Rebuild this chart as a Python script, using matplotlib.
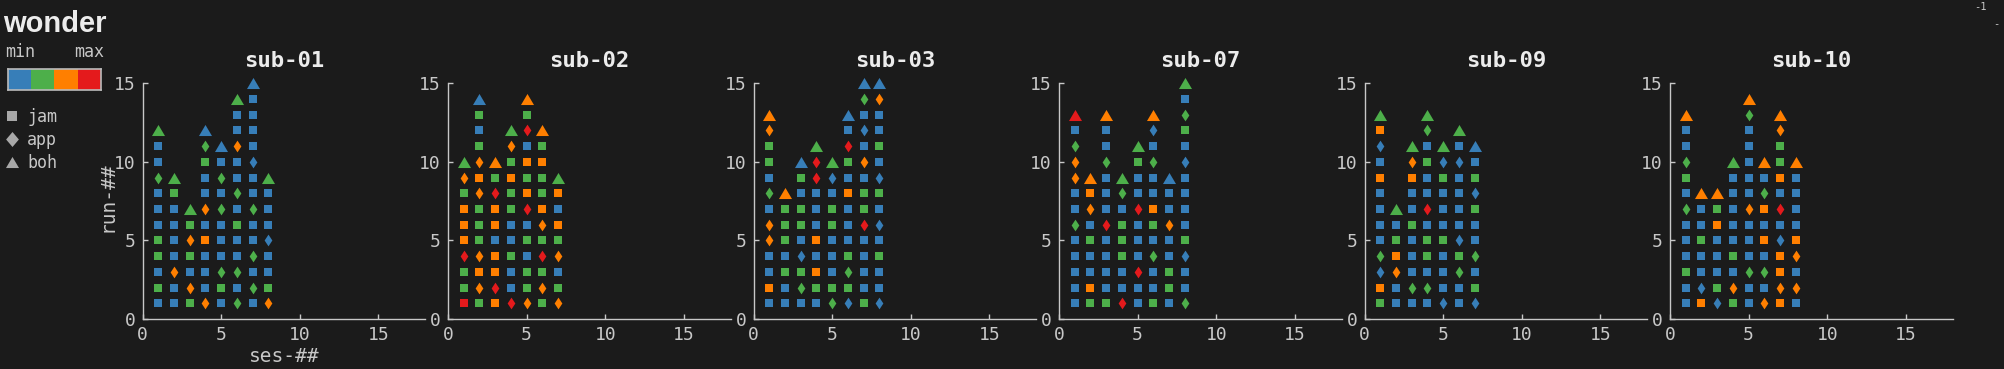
import matplotlib
matplotlib.use("Agg")
import matplotlib.pyplot as plt
from matplotlib.colors import ListedColormap
from matplotlib.lines import Line2D
import numpy as np

# ---------------- data ----------------
subjects = ["sub-01", "sub-02", "sub-03", "sub-07", "sub-09", "sub-10"]
# each string = one session (ses-01, ses-02, ...), tokens from run 1 upwards
# token: marker (s=jam, d=app, t=boh) + colour level (b<g<o<r : min -> max)
sub01 = ["sb sg sb sg sg sb sb sb dg sb sb tg",
         "sb sb do sb sb sb sb sg tg",
         "sg do sb sg do sg tg",
         "do sb sb sb so sb do sb sb sg dg tb",
         "sb sg dg sb sb sb dg sb dg sb tb",
         "dg sb dg sb sb sg sb dg sb sb do sb sb tg",
         "sb dg sb dg sb sb dg sb sb db sb sb sb sb tb",
         "do sg sb sb db sb sb sb tg"]
sub02 = ["sr sg sg dr so so so sg do tg",
         "sg do so do sg sg sg do so do sg sb sg tb",
         "so dr so so sb so so dr sg to",
         "dr sb sb sg sb sb sg sg so sg do tg",
         "do sg sg sb sg sb dr so sg so sb dr sg to",
         "sg do sg dr sg do so sg sg so sg to",
         "do sg sb do sg so sb so tg"]
sub03 = ["sb so sb sb do do sb dg sb sg sg do to",
         "sb sb sg sb sg sg sg to",
         "sb dg sg db sb sg sg sb sg tb",
         "sb sg so sb so sb sb sb dr dr tg",
         "dg sg sb sb sb sg sg sb db tg",
         "db sg dg sg sb sb sb so sb sg dr sb tb",
         "sg sb sb sb sb dr sg sg sb do sb db sb dg tb",
         "db sb sb sg sb db sb sg db sb sg sb sb do tb"]
sub07 = ["sb sb sb sb sb dg sb sb do do dg sb tr",
         "sg so sb sb sg sb do so to",
         "sg sb sb sb sb dr sb sb sb dg sb sb to",
         "dr sb sb sg sg sg sb dg tg",
         "sb sb dr sb sb sb dr sb sb sg tg",
         "sg sb sb dg sb sg so sb sb dg sb db to",
         "sb sg sg sb sb do sb sb tb",
         "dg sb sb db sg sb sb sb sb db sb sg dg sb tg"]
sub09 = ["sg so db dg sb sb sb sb so sb db so tg",
         "sb sb do so sg sb tg",
         "sb dg sb sb sb sg sb sb so do tg",
         "sb dg sb sg sg sb dr sb sb sg sb dg tg",
         "db sb sb sb sg sb sb sb sg db tg",
         "sb sb dg sg db sb sb sb sb db sb tg",
         "db sg sb dg sb sb sg db sg sb tb"]
sub10 = ["sb sb sg sb sb sb dg sb sg dg sb sb to",
         "so db sb sb sg sb sb to",
         "db sg sb sb sb so sg to",
         "sg do sb sg sb sb sb sb sb tg",
         "sb sb dg sb sb sb do sb sb sb sb sb dg to",
         "do sb dg sb so sb so dg sb to",
         "so do so so db sb dr sb so sg sg do to",
         "sb do sb do so sb sb sb sb to"]
subject_data = [sub01, sub02, sub03, sub07, sub09, sub10]

level_names = ["min", "max"]
level_colors = ["#377eb8", "#4daf4a", "#ff7f00", "#e41a1c"]
level_keys = ["b", "g", "o", "r"]
kind_keys = ["s", "d", "t"]
kind_labels = ["jam", "app", "boh"]
x_ticks = [0, 5, 10, 15]
y_ticks = [0, 5, 10, 15]

# ---------------- style ----------------
BG = "#1b1b1b"
FG = "#c8c8c8"
TITLE = "#ececec"
MONO = "DejaVu Sans Mono"
tri = [(-1, -0.85), (1, -0.85), (0, 0.85), (-1, -0.85)]
dia = [(0, 1), (0.66, 0), (0, -1), (-0.66, 0), (0, 1)]
dia_leg = [(0, 1), (0.85, 0), (0, -1), (-0.85, 0), (0, 1)]
kind_marker = {"s": "s", "d": dia, "t": tri}
kind_size = {"s": 36, "d": 71, "t": 88}

W, H = 2004, 369
fig = plt.figure(figsize=(W / 100, H / 100), dpi=100, facecolor=BG)

u = 15.72           # pixels per data unit
left0, step = 142.5, 305.5
bottom_px = 319.0
axw, axh = 18 * u, 15.6 * u

for i, (name, cols) in enumerate(zip(subjects, subject_data)):
    ax = fig.add_axes([(left0 + step * i) / W, (H - bottom_px) / H, axw / W, axh / H])
    ax.set_facecolor(BG)
    groups = {}
    for ses, col in enumerate(cols, start=1):
        for run, tok in enumerate(col.split(), start=1):
            groups.setdefault((tok[0], tok[1]), []).append((ses, run))
    for (k, c), pts in groups.items():
        pts = np.array(pts)
        ax.scatter(pts[:, 0], pts[:, 1], marker=kind_marker[k], s=kind_size[k],
                   color=level_colors[level_keys.index(c)], linewidths=0,
                   clip_on=False, zorder=3)
    ax.set_xlim(0, 18)
    ax.set_ylim(0, 15.6)
    ax.set_xticks(x_ticks)
    ax.set_yticks(y_ticks)
    for s in ("top", "right"):
        ax.spines[s].set_visible(False)
    ax.spines["left"].set_bounds(0, 15)
    for s in ("left", "bottom"):
        ax.spines[s].set_color(FG)
        ax.spines[s].set_linewidth(1.0)
    ax.tick_params(direction="in", length=3.5, width=1, colors=FG, labelsize=13, pad=5)
    for lab in ax.get_xticklabels() + ax.get_yticklabels():
        lab.set_family(MONO)
    ax.set_title(name, family=MONO, fontweight="bold", fontsize=16, color=TITLE, pad=5)
    if i == 0:
        ax.set_xlabel("ses-##", family=MONO, fontsize=14, color=FG, labelpad=2)
        ax.set_ylabel("run-##", family=MONO, fontsize=14, color=FG, labelpad=-2)

# ---------------- title / colour key / legend ----------------
fig.text(3 / W, 1 - 24 / H, "wonder", fontsize=21, fontweight="bold", color=TITLE,
         family=["Liberation Sans", "DejaVu Sans"], va="center", ha="left")
fig.text(5 / W, 1 - 52 / H, level_names[0], family=MONO, fontsize=12, color=FG, va="center", ha="left")
fig.text(104 / W, 1 - 52 / H, level_names[1], family=MONO, fontsize=12, color=FG, va="center", ha="right")

cax = fig.add_axes([8 / W, 1 - 90 / H, 93 / W, 21 / H])
cax.imshow(np.arange(len(level_colors))[None, :], cmap=ListedColormap(level_colors),
           aspect="auto", interpolation="nearest")
cax.set_xticks([])
cax.set_yticks([])
for s in cax.spines.values():
    s.set_color("#bbbbbb")
    s.set_linewidth(1.2)

handles = [Line2D([], [], linestyle="none", marker=m, color="#a8a8a8", markersize=ms,
                  markeredgewidth=0)
           for m, ms in zip(["s", dia_leg, tri], [7.2, 10.8, 9.4])]
leg = fig.legend(handles, kind_labels, loc="upper left", bbox_to_anchor=(4 / W, 1 - 108 / H),
                 frameon=False, handlelength=0.9, handletextpad=0.5, labelspacing=0.3,
                 borderpad=0, borderaxespad=0, prop={"family": MONO, "size": 12})
for t in leg.get_texts():
    t.set_color(FG)

# small stray labels in the top-right corner of the original
fig.text(1974 / W, 1 - 10 / H, "-1", family=MONO, fontsize=7.5, color=FG, va="baseline", ha="left")
fig.text(1993 / W, 1 - 27 / H, "-", family=MONO, fontsize=7.5, color=FG, va="baseline", ha="left")

fig.savefig("out.png", dpi=100, facecolor=BG)
